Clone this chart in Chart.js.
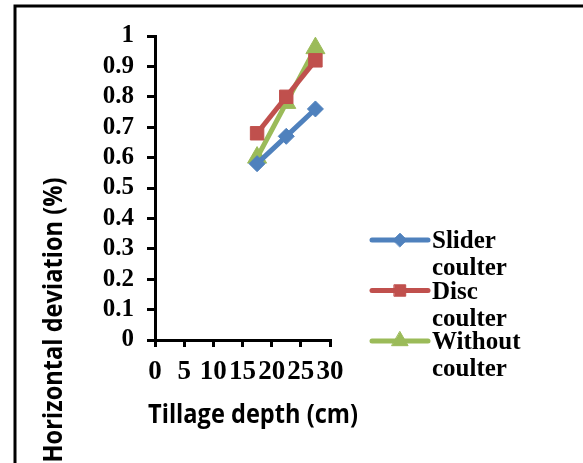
<!DOCTYPE html>
<html>
<head>
<meta charset="utf-8">
<script src="https://cdn.jsdelivr.net/npm/chart.js@4"></script>
<style>
  html, body { margin: 0; padding: 0; background: #fff; }
  #wrap { position: relative; width: 583px; height: 463px; }
</style>
</head>
<body>
<div id="wrap"><canvas id="c"></canvas></div>
<script>
// Tillage depth (cm) for each measurement
const depths = [17.5, 22.5, 27.5];

// Horizontal deviation (%) per coulter type
const sliderCoulter = [0.58, 0.67, 0.76];
const discCoulter = [0.68, 0.80, 0.92];
const withoutCoulter = [0.60, 0.78, 0.96];

// Legend text, one array of lines per series
const seriesLabels = [['Slider', 'coulter'], ['Disc', 'coulter'], ['Without', 'coulter']];

// Axis tick values
const xTickValues = [0, 5, 10, 15, 20, 25, 30];
const yTickValues = [0, 0.1, 0.2, 0.3, 0.4, 0.5, 0.6, 0.7, 0.8, 0.9, 1];

const xTitle = 'Tillage depth (cm)';
const yTitle = 'Horizontal deviation (%)';

const colors = ['#4F81BD', '#C0504D', '#9BBB59'];
const markers = [
  { style: 'rectRot', radius: 8 },
  { style: 'rect', radius: 9.5 },
  { style: 'triangle', radius: 11 }
];

const serifFamily = '"Liberation Serif", "Times New Roman", serif';
const serifBold = 'bold 25px ' + serifFamily;
const sansBold = 'bold 27px "Open Sans", sans-serif';

function toPoints(ys) {
  return depths.map((x, i) => ({ x: x, y: ys[i] }));
}

function makeSeries(values, idx) {
  return {
    label: seriesLabels[idx].join(' '),
    data: toPoints(values),
    showLine: true,
    borderColor: colors[idx],
    backgroundColor: colors[idx],
    borderWidth: 5,
    pointStyle: markers[idx].style,
    pointRadius: markers[idx].radius,
    pointHoverRadius: markers[idx].radius,
    pointBackgroundColor: colors[idx],
    pointBorderColor: colors[idx],
    pointBorderWidth: 1
  };
}

// Draws text squeezed/stretched horizontally to a given width
function fitText(ctx, text, width) {
  const w = ctx.measureText(text).width;
  ctx.scale(width / w, 1);
  ctx.fillText(text, 0, 0);
}

// Outer frame: left and top edges
const framePlugin = {
  id: 'frame',
  beforeDraw(chart) {
    const ctx = chart.ctx;
    ctx.save();
    ctx.fillStyle = '#fff';
    ctx.fillRect(0, 0, chart.width, chart.height);
    ctx.strokeStyle = '#000';
    ctx.lineWidth = 3;
    ctx.beginPath();
    ctx.moveTo(15, chart.height);
    ctx.lineTo(15, 6);
    ctx.lineTo(chart.width, 6);
    ctx.stroke();
    ctx.restore();
  }
};

// Axis titles and a two-line legend to the right of the plot
const decorPlugin = {
  id: 'decor',
  afterDraw(chart) {
    const ctx = chart.ctx;
    const area = chart.chartArea;

    ctx.save();
    ctx.fillStyle = '#000';
    ctx.font = sansBold;
    ctx.textAlign = 'center';
    ctx.textBaseline = 'alphabetic';

    // x axis title
    ctx.save();
    ctx.translate(253, 423);
    fitText(ctx, xTitle, 210);
    ctx.restore();

    // y axis title
    ctx.save();
    ctx.translate(62, 320);
    ctx.rotate(-Math.PI / 2);
    fitText(ctx, yTitle, 285);
    ctx.restore();

    // legend
    const x0 = area.right + 42;
    const x1 = x0 + 56;
    const y0 = 240;
    const step = 50.5;
    chart.data.datasets.forEach((ds, i) => {
      const y = y0 + i * step;
      ctx.strokeStyle = colors[i];
      ctx.lineWidth = 5;
      ctx.lineCap = 'round';
      ctx.beginPath();
      ctx.moveTo(x0, y);
      ctx.lineTo(x1, y);
      ctx.stroke();
      ctx.fillStyle = colors[i];
      ctx.strokeStyle = colors[i];
      ctx.lineWidth = 1;
      Chart.helpers.drawPoint(ctx, {
        pointStyle: markers[i].style,
        radius: markers[i].radius * 0.85,
        rotation: 0,
        borderWidth: 1
      }, (x0 + x1) / 2, y);
      ctx.fillStyle = '#000';
      ctx.font = serifBold;
      ctx.textAlign = 'left';
      seriesLabels[i].forEach((line, k) => {
        ctx.fillText(line, x1 + 4, y + 8 + k * 27);
      });
    });
    ctx.restore();
  }
};

new Chart(document.getElementById('c'), {
  type: 'scatter',
  data: {
    datasets: [
      makeSeries(sliderCoulter, 0),
      makeSeries(discCoulter, 1),
      makeSeries(withoutCoulter, 2)
    ]
  },
  options: {
    responsive: true,
    maintainAspectRatio: false,
    animation: false,
    events: [],
    layout: { padding: { left: 0, top: 36, right: 253, bottom: 60 } },
    plugins: {
      legend: { display: false },
      tooltip: { enabled: false },
      title: { display: false }
    },
    scales: {
      x: {
        type: 'linear',
        min: xTickValues[0],
        max: xTickValues[xTickValues.length - 1],
        afterBuildTicks(scale) { scale.ticks = xTickValues.map(v => ({ value: v })); },
        afterFit(scale) { scale.height = 463 - 60 - 340; },
        border: { display: true, color: '#000', width: 3 },
        grid: { drawOnChartArea: false, drawTicks: true, tickLength: 7, color: '#000', lineWidth: 3 },
        ticks: {
          color: '#000',
          padding: 9,
          maxRotation: 0,
          autoSkip: false,
          font: { family: serifFamily, size: 27, weight: 'bold' }
        }
      },
      y: {
        type: 'linear',
        min: yTickValues[0],
        max: yTickValues[yTickValues.length - 1],
        afterBuildTicks(scale) { scale.ticks = yTickValues.map(v => ({ value: v })); },
        afterFit(scale) { scale.width = 155; },
        border: { display: true, color: '#000', width: 3 },
        grid: { drawOnChartArea: false, drawTicks: true, tickLength: 8, color: '#000', lineWidth: 3 },
        ticks: {
          color: '#000',
          padding: 13,
          autoSkip: false,
          callback: v => String(+v.toFixed(1)),
          font: { family: serifFamily, size: 25, weight: 'bold' }
        }
      }
    }
  },
  plugins: [framePlugin, decorPlugin]
});
</script>
</body>
</html>
